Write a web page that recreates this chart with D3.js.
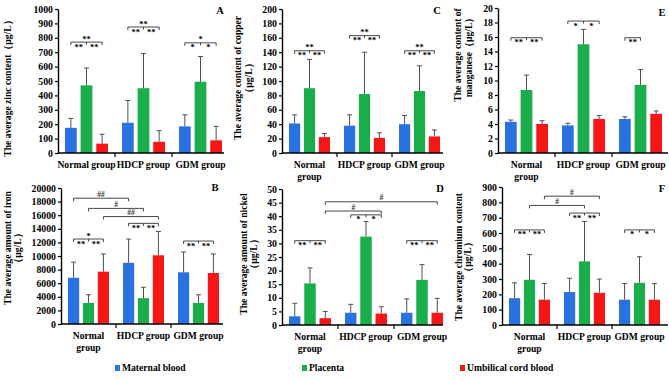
<!DOCTYPE html>
<html><head><meta charset="utf-8">
<script src="https://cdn.jsdelivr.net/npm/d3@7"></script>
<style>
body{margin:0;background:#fff}
svg{display:block;font-family:"Liberation Serif","Times New Roman",serif;font-weight:bold}
</style></head><body>
<svg id="chart" width="669" height="381"></svg>
<script>
const groups = ["Normal group", "HDCP group", "GDM group"];
const series = ["Maternal blood", "Placenta", "Umbilical cord blood"];
const colors = ["#2a72e0", "#1aae4a", "#f51616"];

// rows = groups, columns = series (maternal, placenta, cord)
const zincMean = [[175, 470, 65], [210, 450, 78], [185, 495, 88]];
const zincSd = [[65, 120, 65], [155, 240, 77], [80, 175, 97]];
const copperMean = [[41, 90, 22], [38, 82, 21], [40, 86, 23]];
const copperSd = [[12, 40, 5], [15, 58, 7], [12, 35, 9]];
const manganeseMean = [[4.3, 8.7, 4.0], [3.8, 15.0, 4.7], [4.7, 9.4, 5.4]];
const manganeseSd = [[0.25, 2.05, 0.45], [0.3, 2.05, 0.45], [0.3, 2.1, 0.4]];
const ironMean = [[6800, 3100, 7700], [9000, 3800, 10100], [7600, 3100, 7500]];
const ironSd = [[2300, 1200, 2600], [3500, 1600, 3500], [3000, 1200, 2800]];
const nickelMean = [[3.2, 15.3, 2.5], [4.5, 32.5, 4.2], [4.5, 16.6, 4.5]];
const nickelSd = [[4.8, 5.7, 2.5], [3.1, 5.5, 2.5], [5.1, 5.6, 5.3]];
const chromiumMean = [[175, 295, 165], [215, 415, 210], [165, 275, 165]];
const chromiumSd = [[100, 165, 105], [90, 260, 90], [105, 170, 105]];

// significance within a group: level, text above, texts below
const zincSig = [
  { g: "Normal group", level: 770, top: "**", below: ["**", "**"] },
  { g: "HDCP group", level: 875, top: "**", below: ["**", "**"] },
  { g: "GDM group", level: 765, top: "*", below: ["*", "*"] }
];
const copperSig = [
  { g: "Normal group", level: 142, top: "**", below: ["**", "**"] },
  { g: "HDCP group", level: 163, top: "**", below: ["**", "**"] },
  { g: "GDM group", level: 142, top: "**", below: ["**", "**"] }
];
const manganeseSig = [
  { g: "Normal group", level: 15.9, top: "", below: ["**", "**"] },
  { g: "HDCP group", level: 18.2, top: "", below: ["*", "*"] },
  { g: "GDM group", level: 15.9, top: "", below: ["**"], pair: true }
];
const ironSig = [
  { g: "Normal group", level: 12500, top: "*", below: ["**", "**"] },
  { g: "HDCP group", level: 14800, top: "", below: ["**", "**"] },
  { g: "GDM group", level: 12200, top: "", below: ["**", "**"] }
];
const nickelSig = [
  { g: "Normal group", level: 31, top: "", below: ["**", "**"] },
  { g: "HDCP group", level: 40.5, top: "", below: ["*", "*"] },
  { g: "GDM group", level: 31, top: "", below: ["**", "**"] }
];
const chromiumSig = [
  { g: "Normal group", level: 620, top: "", below: ["**", "**"] },
  { g: "HDCP group", level: 730, top: "", below: ["**", "**"] },
  { g: "GDM group", level: 620, top: "", below: ["*", "*"] }
];

// comparisons between groups
const ironLinks = [
  { from: ["Normal group", "Maternal blood"], to: ["HDCP group", "Maternal blood"], level: 18500, text: "##" },
  { from: ["Normal group", "Placenta"], to: ["HDCP group", "Placenta"], level: 17000, text: "#" },
  { from: ["Normal group", "Umbilical cord blood"], to: ["HDCP group", "Umbilical cord blood"], level: 15800, text: "##" }
];
const nickelLinks = [
  { from: ["Normal group", "Umbilical cord blood"], to: ["GDM group", "Umbilical cord blood"], level: 45.3, text: "#" },
  { from: ["Normal group", "Umbilical cord blood"], to: ["HDCP group", "Umbilical cord blood"], level: 41.9, text: "#" }
];
const chromiumLinks = [
  { from: ["Normal group", "Placenta"], to: ["HDCP group", "Placenta"], level: 780, text: "#" },
  { from: ["Normal group", "Umbilical cord blood"], to: ["HDCP group", "Umbilical cord blood"], level: 840, text: "#" }
];

const panels = [
  { letter: "A", mean: zincMean, sd: zincSd, max: 1000, step: 100, sig: zincSig, links: [],
    left: 58, bw: 57, right: 224, y0: 153, y1: 9, wrap: false,
    ylab: ["The average zinc content（μg/L）"], labX: [11], labY: 86, lx: 220, ly: 14 },
  { letter: "C", mean: copperMean, sd: copperSd, max: 200, step: 20, sig: copperSig, links: [],
    left: 282, bw: 55, right: 443, y0: 153, y1: 9, wrap: true,
    ylab: ["The average content of copper", "（μg/L）"], labX: [241, 252], labY: 78, lx: 437, ly: 14 },
  { letter: "E", mean: manganeseMean, sd: manganeseSd, max: 20, step: 2, sig: manganeseSig, links: [],
    left: 498, bw: 57, right: 668, y0: 153, y1: 8, wrap: true,
    ylab: ["The average content of", "manganese（μg/L）"], labX: [461, 472], labY: 55, lx: 662, ly: 16 },
  { letter: "B", mean: ironMean, sd: ironSd, max: 20000, step: 2000, sig: ironSig, links: ironLinks,
    left: 61, bw: 55, right: 223, y0: 324, y1: 188, wrap: true,
    ylab: ["The average amount of iron", "（μg/L）"], labX: [11, 21], labY: 248, lx: 215, ly: 191 },
  { letter: "D", mean: nickelMean, sd: nickelSd, max: 50, step: 5, sig: nickelSig, links: nickelLinks,
    left: 282, bw: 56, right: 443, y0: 325, y1: 189, wrap: true,
    ylab: ["The average amount of nickel", "（μg/L）"], labX: [247, 257], labY: 254, lx: 440, ly: 192 },
  { letter: "F", mean: chromiumMean, sd: chromiumSd, max: 900, step: 100, sig: chromiumSig, links: chromiumLinks,
    left: 502, bw: 55, right: 668, y0: 325, y1: 187, wrap: true,
    ylab: ["The average chromium content", "（μg/L）"], labX: [462, 471], labY: 257, lx: 662, ly: 192 }
];

const svg = d3.select("#chart");
const serif = '"Liberation Serif","Times New Roman",serif';

function drawPanel(p) {
  const g = svg.append("g");
  const x = d3.scaleBand().domain(groups).range([p.left, p.left + 3 * p.bw]);
  const xs = d3.scaleBand().domain(series).range([7, p.bw - 7]).paddingInner(0.25);
  const y = d3.scaleLinear().domain([0, p.max]).range([p.y0, p.y1]);
  const cx = (gr, s) => x(gr) + xs(s) + xs.bandwidth() / 2;

  const data = groups.flatMap((gr, i) =>
    series.map((s, j) => ({ gr, s, j, m: p.mean[i][j], sd: p.sd[i][j] }))
  );

  // bars
  g.selectAll(".bar").data(data).join("rect")
    .attr("x", d => x(d.gr) + xs(d.s))
    .attr("y", d => y(d.m))
    .attr("width", xs.bandwidth())
    .attr("height", d => y(0) - y(d.m))
    .attr("fill", d => colors[d.j]);

  // error bars (upper only)
  const err = g.append("g").attr("stroke", "#505050").attr("stroke-width", 1);
  err.selectAll("line.v").data(data).join("line")
    .attr("x1", d => cx(d.gr, d.s)).attr("x2", d => cx(d.gr, d.s))
    .attr("y1", d => y(d.m)).attr("y2", d => y(d.m + d.sd));
  err.selectAll("line.c").data(data).join("line")
    .attr("x1", d => cx(d.gr, d.s) - 2.5).attr("x2", d => cx(d.gr, d.s) + 2.5)
    .attr("y1", d => y(d.m + d.sd)).attr("y2", d => y(d.m + d.sd));

  // y axis
  g.append("g")
    .attr("transform", `translate(${p.left},0)`)
    .call(d3.axisLeft(y)
      .tickValues(d3.range(0, p.max + p.step / 2, p.step))
      .tickFormat(d3.format("d"))
      .tickSize(3).tickSizeOuter(0).tickPadding(2))
    .attr("font-size", 9.8).attr("font-family", serif).attr("font-weight", "bold")
    .call(a => a.select(".domain").attr("stroke", "#000").attr("stroke-width", 1.4))
    .call(a => a.selectAll(".tick line").attr("stroke", "#000").attr("stroke-width", 1.2))
    .call(a => a.selectAll(".tick text").attr("fill", "#000"));

  // x axis line and separators
  g.append("line").attr("x1", p.left).attr("x2", p.right)
    .attr("y1", p.y0).attr("y2", p.y0).attr("stroke", "#000").attr("stroke-width", 1.4);
  g.selectAll(".sep").data(groups.slice(1)).join("line")
    .attr("x1", d => x(d)).attr("x2", d => x(d))
    .attr("y1", p.y0).attr("y2", p.y0 + 4).attr("stroke", "#000").attr("stroke-width", 1.2);

  // x labels
  groups.forEach(gr => {
    const lines = p.wrap && gr === "Normal group" ? ["Normal", "group"] : [gr];
    const t = g.append("text").attr("text-anchor", "middle").attr("font-size", 9.6)
      .attr("x", x(gr) + x.bandwidth() / 2).attr("y", p.y0 + 14.5);
    lines.forEach((l, k) => t.append("tspan").attr("x", x(gr) + x.bandwidth() / 2)
      .attr("dy", k ? 12 : 0).text(l));
  });

  // y label
  p.ylab.forEach((l, k) => {
    g.append("text").attr("font-size", 9.6).attr("text-anchor", "middle")
      .attr("transform", `translate(${p.labX[k]},${p.labY}) rotate(-90)`).text(l);
  });

  // panel letter
  g.append("text").attr("x", p.lx).attr("y", p.ly).attr("text-anchor", "middle")
    .attr("font-size", 10.5).text(p.letter);

  // brackets inside groups
  const br = g.append("g").attr("stroke", "#333").attr("stroke-width", 0.9).attr("fill", "none");
  p.sig.forEach(sg => {
    const x1 = cx(sg.g, series[0]);
    const xm = cx(sg.g, series[1]);
    const x2 = sg.pair ? xm : cx(sg.g, series[2]);
    const yy = y(sg.level);
    br.append("path").attr("d", `M${x1},${yy + 3}V${yy}H${x2}V${yy + 3}`);
    if (!sg.pair) br.append("path").attr("d", `M${xm},${yy}V${yy + 2.5}`);
    if (sg.top) g.append("text").attr("x", (x1 + x2) / 2).attr("y", yy - 0.5)
      .attr("text-anchor", "middle").attr("font-size", 8.5).text(sg.top);
    const mids = sg.pair ? [(x1 + x2) / 2] : [(x1 + xm) / 2, (xm + x2) / 2];
    sg.below.forEach((s, k) => g.append("text").attr("x", mids[k]).attr("y", yy + 7.5)
      .attr("text-anchor", "middle").attr("font-size", 8.5).text(s));
  });

  // brackets between groups
  p.links.forEach(lk => {
    const x1 = cx(lk.from[0], lk.from[1]);
    const x2 = cx(lk.to[0], lk.to[1]);
    const yy = y(lk.level);
    br.append("path").attr("d", `M${x1},${yy + 3}V${yy}H${x2}V${yy + 3}`);
    g.append("text").attr("x", (x1 + x2) / 2).attr("y", yy - 1.5)
      .attr("text-anchor", "middle").attr("font-size", 7.5).attr("fill", "#333").text(lk.text);
  });
}

panels.forEach(drawPanel);

// legend
const legendX = [115, 302, 460];
const leg = svg.append("g");
series.forEach((s, i) => {
  leg.append("rect").attr("x", legendX[i]).attr("y", 365).attr("width", 5).attr("height", 6)
    .attr("fill", colors[i]);
  leg.append("text").attr("x", legendX[i] + 7).attr("y", 371).attr("font-size", 9.6).text(s);
});
</script>
</body></html>
